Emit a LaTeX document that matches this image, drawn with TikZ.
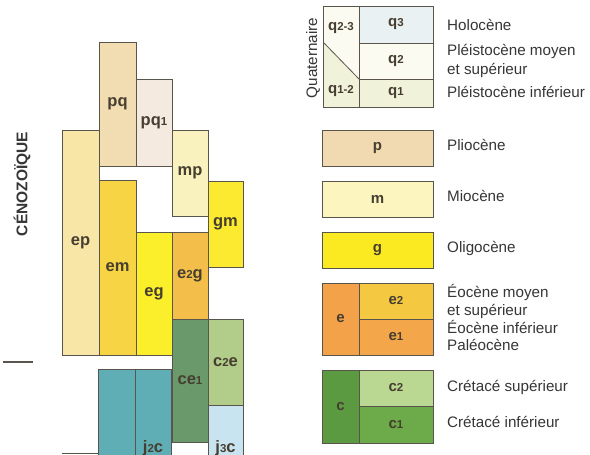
\documentclass[tikz,border=0pt]{standalone}
\usepackage{fontspec}
\setmainfont{Liberation Sans}
\definecolor{boxline}{HTML}{5A554C}
\definecolor{labcol}{HTML}{463E30}
\definecolor{txtcol}{HTML}{363636}
\definecolor{cpq}{HTML}{F2DCB2}
\definecolor{cpqa}{HTML}{F5EADF}
\definecolor{cep}{HTML}{F7E6A6}
\definecolor{cem}{HTML}{F6D444}
\definecolor{ceg}{HTML}{FBEE2A}
\definecolor{cetg}{HTML}{F3BF4A}
\definecolor{cmp}{HTML}{FAF2BE}
\definecolor{cgm}{HTML}{FBEA30}
\definecolor{cce}{HTML}{6A9A6C}
\definecolor{cce2}{HTML}{B2CC8A}
\definecolor{cjt}{HTML}{C9E4F1}
\definecolor{cjd}{HTML}{5FAEB6}
\definecolor{cqt}{HTML}{E9F1F2}
\definecolor{cqd}{HTML}{FCFBF1}
\definecolor{cqu}{HTML}{F0F2DA}
\definecolor{cp}{HTML}{F1DAB2}
\definecolor{cm}{HTML}{FCF5C0}
\definecolor{cg}{HTML}{FBEA22}
\definecolor{ce}{HTML}{F3A24A}
\definecolor{ced}{HTML}{F5C842}
\definecolor{ceu}{HTML}{F3A64A}
\definecolor{cc}{HTML}{5C9A42}
\definecolor{ccd}{HTML}{BAD892}
\definecolor{ccu}{HTML}{6CAA4A}
\newcommand{\labfont}{\fontsize{16.5}{18}\selectfont\bfseries}
\newcommand{\leglabfont}{\fontsize{15}{17}\selectfont\bfseries}
\newcommand{\legfont}{\fontsize{15.2}{18}\selectfont}
\newcommand{\sd}[1]{{\fontsize{11.5}{11.5}\selectfont #1}}
\tikzset{
  geobox/.style={draw=boxline, line width=0.9pt, inner sep=0pt, outer sep=0pt,
    anchor=north west, font=\labfont, text=labcol},
  legbox/.style={geobox, font=\leglabfont},
  legtext/.style={anchor=mid west, inner sep=0pt, font=\legfont, text=txtcol},
}
\begin{document}
\begin{tikzpicture}[x=1pt,y=-1pt]
\useasboundingbox (0,0) rectangle (590,455);
\fill[white] (0,0) rectangle (590,455);
\clip (0,0) rectangle (590,455);
% ---- left column chart ----
\node[geobox, fill=cep, minimum width=37pt, minimum height=225pt] (ep) at (62,130) {ep};
\node[geobox, fill=cpq, minimum width=37pt, minimum height=124pt] (pq) at (99,42) {pq};
\node[geobox, fill=cpqa, minimum width=36pt, minimum height=87pt] (pq1) at (136,79) {pq\sd{1}};
\node[geobox, fill=cmp, minimum width=36pt, minimum height=86pt] (mp) at (172,130) {mp};
\node[geobox, fill=cgm, minimum width=35pt, minimum height=86pt] (gm) at (208,181) {gm};
\node[geobox, fill=cem, minimum width=37pt, minimum height=175pt] (em) at (99,180) {em};
\node[geobox, fill=ceg, minimum width=36pt, minimum height=123pt] (eg) at (136,232) {eg};
\node[geobox, fill=cetg, minimum width=36pt, minimum height=87pt] (e2g) at (172,232) {e\sd{2}g};
\node[geobox, fill=cce, minimum width=36pt, minimum height=123pt] (ce1) at (172,319) {ce\sd{1}};
\node[geobox, fill=cce2, minimum width=35pt, minimum height=86pt] (c2e) at (208,319) {c\sd{2}e};
\node[geobox, fill=cjt, minimum width=35pt, minimum height=86pt] (j3c) at (208,405) {j\sd{3}c};
\node[geobox, fill=cjd, minimum width=37pt, minimum height=158pt] (j2ca) at (98,369) {};
\node[geobox, fill=cjd, minimum width=36pt, minimum height=158pt] (j2c) at (135,369) {j\sd{2}c};
\coordinate (ja) at (62,453);
\coordinate (jb) at (98,453);
\draw[boxline, line width=0.9pt] (ja) -- (jb);
% era marker
\node[rotate=90, inner sep=0pt, font=\fontsize{15.5}{18}\selectfont\bfseries, text=txtcol] (ceno) at (22,184) {CÉNOZOÏQUE};
\coordinate (la) at (3,362);
\coordinate (lb) at (33,362);
\draw[boxline, line width=1.2pt] (la) -- (lb);
% ---- legend ----
\node[legbox, fill=cqd, minimum width=36pt, minimum height=101pt] (qbox) at (323,6) {};
\fill[cqu] (323,42) -- (359,79) -- (359,107) -- (323,107) -- cycle;
\draw[boxline, line width=0.9pt] (323,6) rectangle (359,107);
\draw[boxline, line width=0.8pt] (324,43) -- (359,79);
\node[inner sep=0pt, font=\leglabfont, text=labcol] (q23) at (341,28) {q\sd{2-3}};
\node[inner sep=0pt, font=\leglabfont, text=labcol] (q12) at (341,91) {q\sd{1-2}};
\node[legbox, fill=cqt, minimum width=74pt, minimum height=37pt] (q3) at (359,6) {q\sd{3}};
\node[legbox, fill=cqd, minimum width=74pt, minimum height=36pt] (q2) at (359,43) {q\sd{2}};
\node[legbox, fill=cqu, minimum width=74pt, minimum height=28pt] (q1) at (359,79) {q\sd{1}};
\node[rotate=90, inner sep=0pt, font=\legfont, text=txtcol] (quat) at (313,58) {Quaternaire};
\node[legbox, fill=cp, minimum width=111pt, minimum height=36pt] (p) at (322,130) {p};
\node[legbox, fill=cm, minimum width=111pt, minimum height=36pt] (m) at (322,181) {m};
\node[legbox, fill=cg, minimum width=111pt, minimum height=36pt] (g) at (322,232) {g};
\node[legbox, fill=ce, minimum width=37pt, minimum height=72pt] (e) at (322,283) {e};
\node[legbox, fill=ced, minimum width=74pt, minimum height=36pt] (e2) at (359,283) {e\sd{2}};
\node[legbox, fill=ceu, minimum width=74pt, minimum height=36pt] (e1) at (359,319) {e\sd{1}};
\node[legbox, fill=cc, minimum width=37pt, minimum height=73pt] (c) at (322,370) {c};
\node[legbox, fill=ccd, minimum width=74pt, minimum height=36pt] (c2) at (359,370) {c\sd{2}};
\node[legbox, fill=ccu, minimum width=74pt, minimum height=37pt] (c1) at (359,406) {c\sd{1}};
% legend texts
\node[legtext] (t1) at (447,28) {Holocène};
\node[legtext] (t2) at (447,53) {Pléistocène moyen};
\node[legtext] (t3) at (447,72) {et supérieur};
\node[legtext] (t4) at (447,95) {Pléistocène inférieur};
\node[legtext] (t5) at (447,148) {Pliocène};
\node[legtext] (t6) at (447,199) {Miocène};
\node[legtext] (t7) at (447,250) {Oligocène};
\node[legtext] (t8) at (447,295) {Éocène moyen};
\node[legtext] (t9) at (447,313) {et supérieur};
\node[legtext] (t10) at (447,331) {Éocène inférieur};
\node[legtext] (t11) at (447,348) {Paléocène};
\node[legtext] (t12) at (447,389) {Crétacé supérieur};
\node[legtext] (t13) at (447,425) {Crétacé inférieur};
\end{tikzpicture}
\end{document}
